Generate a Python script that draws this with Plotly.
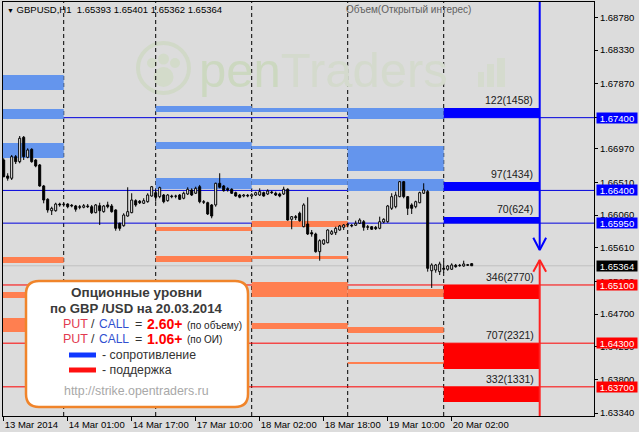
import plotly.graph_objects as go

# ---------------- data ----------------
symbol = "GBPUSD"
timeframe = "H1"

opens = [
    1.66818, 1.66598, 1.66567, 1.66864, 1.66795, 1.67130, 1.66855, 1.66965, 1.66818, 1.66750,
    1.66461, 1.66278, 1.66121, 1.66121, 1.66213, 1.66204, 1.66213, 1.66196, 1.66186, 1.66176,
    1.66168, 1.66186, 1.66176, 1.66094, 1.66190, 1.66108, 1.66200, 1.66186, 1.66131, 1.65948,
    1.65915, 1.66048, 1.66094, 1.66259, 1.66251, 1.66223, 1.66245, 1.66323, 1.66369, 1.66314,
    1.66337, 1.66259, 1.66323, 1.66323, 1.66337, 1.66292, 1.66351, 1.66406, 1.66361, 1.66451,
    1.66245, 1.66231, 1.66200, 1.66200, 1.66498, 1.66461, 1.66424, 1.66416, 1.66369, 1.66337,
    1.66323, 1.66333, 1.66323, 1.66337, 1.66337, 1.66369, 1.66351, 1.66378, 1.66361, 1.66351,
    1.66351, 1.66416, 1.66003, 1.66039, 1.66086, 1.65901, 1.65938, 1.65819, 1.65801, 1.65558,
    1.65664, 1.65681, 1.65801, 1.65819, 1.65856, 1.65893, 1.65925, 1.65921, 1.65921, 1.65948,
    1.65970, 1.65901, 1.65901, 1.65893, 1.65879, 1.65966, 1.65970, 1.66154, 1.66176, 1.66314,
    1.66520, 1.66314, 1.66200, 1.66176, 1.66231, 1.66361, 1.66383, 1.65296, 1.65306, 1.65283,
    1.65329, 1.65316, 1.65316, 1.65371, 1.65371, 1.65361, 1.65379, 1.65393]
highs = [
    1.66842, 1.66636, 1.66887, 1.66887, 1.67148, 1.67148, 1.66979, 1.66979, 1.66828, 1.66763,
    1.66475, 1.66292, 1.66176, 1.66231, 1.66231, 1.66231, 1.66223, 1.66213, 1.66200, 1.66200,
    1.66213, 1.66213, 1.66200, 1.66213, 1.66231, 1.66200, 1.66245, 1.66213, 1.66141, 1.65956,
    1.66086, 1.66443, 1.66361, 1.66278, 1.66268, 1.66292, 1.66361, 1.66461, 1.66406, 1.66451,
    1.66351, 1.66351, 1.66341, 1.66341, 1.66351, 1.66383, 1.66443, 1.66429, 1.66451, 1.66475,
    1.66268, 1.66245, 1.66213, 1.66506, 1.66636, 1.66475, 1.66443, 1.66429, 1.66383, 1.66351,
    1.66351, 1.66351, 1.66361, 1.66383, 1.66429, 1.66383, 1.66416, 1.66396, 1.66383, 1.66369,
    1.66451, 1.66429, 1.66048, 1.66062, 1.66108, 1.66223, 1.66306, 1.65856, 1.65819, 1.65728,
    1.65728, 1.65866, 1.65856, 1.65901, 1.65925, 1.65938, 1.65956, 1.65938, 1.65984, 1.66017,
    1.65993, 1.65925, 1.65911, 1.65911, 1.66039, 1.66017, 1.66200, 1.66361, 1.66383, 1.66530,
    1.66530, 1.66323, 1.66223, 1.66259, 1.66383, 1.66498, 1.66406, 1.65398, 1.65389, 1.65420,
    1.65420, 1.65375, 1.65398, 1.65389, 1.65389, 1.65434, 1.65389, 1.65401]
lows = [
    1.66581, 1.66534, 1.66543, 1.66763, 1.66773, 1.66818, 1.66842, 1.66781, 1.66718, 1.66451,
    1.66223, 1.66094, 1.66062, 1.66108, 1.66176, 1.66176, 1.66154, 1.66168, 1.66108, 1.66141,
    1.66154, 1.66158, 1.66076, 1.66086, 1.65925, 1.66094, 1.66154, 1.66094, 1.65846, 1.65846,
    1.65901, 1.66039, 1.66086, 1.66176, 1.66213, 1.66213, 1.66231, 1.66314, 1.66245, 1.66292,
    1.66223, 1.66245, 1.66292, 1.66292, 1.66268, 1.66278, 1.66337, 1.66323, 1.66351, 1.66223,
    1.66213, 1.66062, 1.66017, 1.66176, 1.66429, 1.66383, 1.66383, 1.66351, 1.66314, 1.66292,
    1.66306, 1.66306, 1.66314, 1.66323, 1.66323, 1.66314, 1.66337, 1.66351, 1.66323, 1.66306,
    1.66337, 1.65984, 1.65866, 1.65993, 1.65970, 1.65893, 1.65787, 1.65764, 1.65544, 1.65434,
    1.65650, 1.65673, 1.65787, 1.65787, 1.65846, 1.65856, 1.65893, 1.65893, 1.65911, 1.65938,
    1.65846, 1.65856, 1.65856, 1.65856, 1.65866, 1.65948, 1.65956, 1.66131, 1.66154, 1.66306,
    1.66292, 1.66062, 1.66076, 1.66154, 1.66223, 1.66351, 1.65283, 1.65059, 1.65269, 1.65237,
    1.65269, 1.65296, 1.65306, 1.65338, 1.65351, 1.65351, 1.65361, 1.65362]
closes = [
    1.66589, 1.66567, 1.66864, 1.66795, 1.67117, 1.66864, 1.66956, 1.66795, 1.66736, 1.66461,
    1.66268, 1.66131, 1.66154, 1.66213, 1.66200, 1.66213, 1.66176, 1.66186, 1.66141, 1.66168,
    1.66190, 1.66176, 1.66094, 1.66200, 1.66121, 1.66186, 1.66176, 1.66108, 1.65879, 1.65879,
    1.66062, 1.66108, 1.66268, 1.66200, 1.66231, 1.66259, 1.66337, 1.66451, 1.66306, 1.66438,
    1.66245, 1.66337, 1.66314, 1.66320, 1.66278, 1.66361, 1.66416, 1.66337, 1.66429, 1.66245,
    1.66237, 1.66076, 1.66048, 1.66498, 1.66443, 1.66396, 1.66406, 1.66361, 1.66323, 1.66306,
    1.66337, 1.66323, 1.66341, 1.66369, 1.66383, 1.66323, 1.66392, 1.66369, 1.66337, 1.66323,
    1.66416, 1.65993, 1.66039, 1.66025, 1.65984, 1.66200, 1.65801, 1.65801, 1.65558, 1.65709,
    1.65719, 1.65856, 1.65833, 1.65879, 1.65911, 1.65925, 1.65934, 1.65911, 1.65948, 1.65993,
    1.65893, 1.65893, 1.65866, 1.65874, 1.65970, 1.66003, 1.66186, 1.66314, 1.66337, 1.66520,
    1.66314, 1.66154, 1.66154, 1.66245, 1.66369, 1.66406, 1.65329, 1.65375, 1.65375, 1.65389,
    1.65316, 1.65361, 1.65375, 1.65351, 1.65365, 1.65389, 1.65371, 1.65364]

# time axis (bar index of hourly candles)
time_tick_idx = [0, 16, 32, 48, 64, 80, 96, 112]
time_tick_text = ["13 Mar 2014", "14 Mar 01:00", "14 Mar 17:00", "17 Mar 10:00",
                  "18 Mar 02:00", "18 Mar 18:00", "19 Mar 10:00", "20 Mar 02:00"]
day_start_idx = [15, 38, 62, 86, 110]
seg_start = [-1, 15, 38, 62, 86, 110]
seg_end = [15, 38, 62, 86, 110, 134]

# price axis ticks
price_ticks = [1.68780, 1.68330, 1.67870, 1.67400, 1.66970, 1.66510, 1.66060,
               1.65610, 1.65150, 1.64700, 1.64250, 1.63800, 1.63340]
y_lo, y_hi = 1.63299, 1.68990

# past days option levels (segment index, low, high)
past_res_seg = [0, 0, 0, 2, 2, 2, 3, 3, 3, 4, 4, 4]
past_res_low = [1.67781, 1.67382, 1.66846, 1.67478, 1.66969, 1.66420,
                1.67478, 1.66969, 1.66474, 1.67382, 1.66667, 1.66392]
past_res_high = [1.67987, 1.67519, 1.67052, 1.67561, 1.67066, 1.66571,
                 1.67533, 1.67011, 1.66557, 1.67533, 1.67011, 1.66557]
past_sup_seg = [0, 0, 0, 2, 2, 3, 3, 3, 3, 4, 4, 4]
past_sup_low = [1.65402, 1.64921, 1.64454, 1.65842, 1.65416, 1.65897,
                1.65457, 1.64935, 1.64495, 1.64935, 1.64440, 1.64014]
past_sup_high = [1.65485, 1.65003, 1.64646, 1.65897, 1.65498, 1.65980,
                 1.65498, 1.65141, 1.64577, 1.65045, 1.64522, 1.64041]

# current day (20.03.2014) levels
res_level = [1.67400, 1.66400, 1.65950]
res_top = [1.67533, 1.66516, 1.66035]
res_vol = [122, 97, 70]
res_oi = [1458, 1434, 624]
sup_level = [1.65100, 1.64300, 1.63700]
sup_bottom = [1.64907, 1.63945, 1.63491]
sup_vol = [346, 707, 332]
sup_oi = [2770, 2321, 1331]

arrow_idx = 134
arrow_down_tip = 1.65581
arrow_down_wing = 1.65750
arrow_up_tip = 1.65444
arrow_up_wing = 1.65283

report_date = "20.03.2014"
pc_volume = "2.60+"
pc_oi = "1.06+"

# ---------------- styling helpers ----------------
FONT = "Liberation Sans, Arial, sans-serif"
BG = "#dcdcdc"
W, H = 639, 432
ML, MR, MT, MB = 3, 45, 2, 16
PW, PH = W - ML - MR, H - MT - MB


def PX(x):
    return (x - ML) / PW


def PY(y):
    return (H - MB - y) / PH


fig = go.Figure()
shapes = []
annos = []

# watermark (faint logo)
shapes.append(dict(type="circle", xref="paper", yref="paper", x0=PX(138), x1=PX(189),
                   y0=PY(93), y1=PY(43), line=dict(color="#d1d9c8", width=4), layer="below"))
for cx, cy, r in [(163.5, 77, 10), (152, 63, 5), (163.5, 59, 5.5), (175, 63, 5)]:
    shapes.append(dict(type="circle", xref="paper", yref="paper", x0=PX(cx - r), x1=PX(cx + r),
                       y0=PY(cy + r), y1=PY(cy - r), fillcolor="#d3dbca", line=dict(width=0),
                       layer="below"))
for bx0, bx1, by0 in [(478, 484, 72), (487, 494, 64), (497, 505, 58)]:
    shapes.append(dict(type="rect", xref="paper", yref="paper", x0=PX(bx0), x1=PX(bx1),
                       y0=PY(87), y1=PY(by0), fillcolor="#d5dbce", line=dict(width=0),
                       layer="below"))
annos.append(dict(xref="paper", yref="paper", x=PX(323), y=PY(70), showarrow=False,
                  text="<span style='color:#ccd8c0'>pen</span><span style='color:#d4dacd'>Traders</span>",
                  font=dict(size=49, family=FONT), xanchor="center", yanchor="middle"))

# past option levels
for s, lo, hi in zip(past_res_seg, past_res_low, past_res_high):
    shapes.append(dict(type="rect", xref="x", yref="y", x0=seg_start[s], x1=seg_end[s],
                       y0=lo, y1=hi, fillcolor="#6495ed", line=dict(width=0), layer="below"))
for s, lo, hi in zip(past_sup_seg, past_sup_low, past_sup_high):
    shapes.append(dict(type="rect", xref="x", yref="y", x0=seg_start[s], x1=seg_end[s],
                       y0=lo, y1=hi, fillcolor="#ff7f50", line=dict(width=0), layer="below"))
# current levels
cur = len(seg_start) - 1
for lv, tp in zip(res_level, res_top):
    shapes.append(dict(type="rect", xref="x", yref="y", x0=seg_start[cur], x1=seg_end[cur],
                       y0=lv, y1=tp, fillcolor="#0000ff", line=dict(width=0), layer="below"))
for lv, bt in zip(sup_level, sup_bottom):
    shapes.append(dict(type="rect", xref="x", yref="y", x0=seg_start[cur], x1=seg_end[cur],
                       y0=bt, y1=lv, fillcolor="#ff0000", line=dict(width=0), layer="below"))

# day separators
for d in day_start_idx:
    shapes.append(dict(type="line", xref="x", yref="paper", x0=d, x1=d, y0=0, y1=1,
                       line=dict(color="black", width=1, dash="4px,3px"), layer="below"))
# horizontal level lines
for lv in res_level:
    shapes.append(dict(type="line", xref="paper", yref="y", x0=0, x1=1, y0=lv, y1=lv,
                       line=dict(color="#0000dd", width=1), layer="below"))
for lv in sup_level:
    shapes.append(dict(type="line", xref="paper", yref="y", x0=0, x1=1, y0=lv, y1=lv,
                       line=dict(color="#ff0000", width=1), layer="below"))
bid = closes[-1]
shapes.append(dict(type="line", xref="paper", yref="y", x0=0, x1=1, y0=bid, y1=bid,
                   line=dict(color="#c0c0c0", width=1), layer="below"))

# candles
idx = list(range(len(opens)))
MINH = 0.00002
for up in (True, False):
    xs, bases, hs = [], [], []
    for i, o, c in zip(idx, opens, closes):
        if (c >= o) == up:
            xs.append(i)
            bases.append(min(o, c))
            hs.append(max(abs(c - o), MINH))
    fig.add_trace(go.Bar(x=xs, y=hs, base=bases, width=0.5,
                         marker=dict(color="white" if up else "black",
                                     line=dict(color="black", width=1)),
                         hoverinfo="skip", showlegend=False))
wx, wy = [], []
for i, o, h, l, c in zip(idx, opens, highs, lows, closes):
    top, bot = max(o, c), min(o, c)
    if h > top:
        wx += [i, i, None]
        wy += [top, h, None]
    if l < bot:
        wx += [i, i, None]
        wy += [bot, l, None]
fig.add_trace(go.Scatter(x=wx, y=wy, mode="lines", line=dict(color="black", width=1),
                         hoverinfo="skip", showlegend=False))

# arrows
fig.add_trace(go.Scatter(x=[arrow_idx, arrow_idx, None, arrow_idx - 1.6, arrow_idx, arrow_idx + 1.6],
                         y=[y_hi, arrow_down_tip, None, arrow_down_wing, arrow_down_tip, arrow_down_wing],
                         mode="lines", line=dict(color="#0000ff", width=2),
                         hoverinfo="skip", showlegend=False))
fig.add_trace(go.Scatter(x=[arrow_idx, arrow_idx, None, arrow_idx - 1.6, arrow_idx, arrow_idx + 1.6],
                         y=[y_lo, arrow_up_tip, None, arrow_up_wing, arrow_up_tip, arrow_up_wing],
                         mode="lines", line=dict(color="#ff2020", width=2),
                         hoverinfo="skip", showlegend=False))

# level labels
for tp, v, o in zip(res_top, res_vol, res_oi):
    annos.append(dict(x=seg_end[cur], y=tp, xref="x", yref="y", text=f"{v}({o})",
                      showarrow=False, xanchor="right", yanchor="bottom", xshift=-5,
                      font=dict(size=10.5, color="#202020", family=FONT)))
for lv, v, o in zip(sup_level, sup_vol, sup_oi):
    annos.append(dict(x=seg_end[cur], y=lv, xref="x", yref="y", text=f"{v}({o})",
                      showarrow=False, xanchor="right", yanchor="bottom", xshift=-4,
                      font=dict(size=10.5, color="#202020", family=FONT)))

# price highlight labels on the axis
highlight = [(lv, "#0000ff") for lv in res_level] + [(lv, "#ff0000") for lv in sup_level]
bid = closes[-1]
highlight.append((bid, "black"))
for lv, col in highlight:
    annos.append(dict(x=1, y=lv, xref="paper", yref="y", text=f"{lv:.5f}", showarrow=False,
                      xanchor="left", yanchor="middle", xshift=2, width=40, height=10,
                      bgcolor=col, borderpad=0, align="center",
                      font=dict(size=9.5, color="white", family=FONT)))
tick_text = ["" if any(abs(v - lv) < 0.00005 for lv, _ in highlight) else f"{v:.5f}"
             for v in price_ticks]

# header texts
annos.append(dict(xref="paper", yref="paper", x=PX(5), y=PY(10), showarrow=False,
                  xanchor="left", yanchor="middle",
                  text=f"<span style='font-size:7px'>▼</span> {symbol},{timeframe}  "
                       f"{opens[-1]:.5f} {highs[-1]:.5f} {lows[-1]:.5f} {closes[-1]:.5f}",
                  font=dict(size=9.5, color="black", family=FONT)))
annos.append(dict(xref="paper", yref="paper", x=PX(344), y=PY(10), showarrow=False,
                  xanchor="left", yanchor="middle", text="Объем(Открытый интерес)",
                  font=dict(size=10, color="#606060", family=FONT)))


# legend box
def rrect(x0, y0, x1, y1, r):
    p = [f"M {PX(x0 + r)},{PY(y0)}", f"L {PX(x1 - r)},{PY(y0)}",
         f"Q {PX(x1)},{PY(y0)} {PX(x1)},{PY(y0 + r)}", f"L {PX(x1)},{PY(y1 - r)}",
         f"Q {PX(x1)},{PY(y1)} {PX(x1 - r)},{PY(y1)}", f"L {PX(x0 + r)},{PY(y1)}",
         f"Q {PX(x0)},{PY(y1)} {PX(x0)},{PY(y1 - r)}", f"L {PX(x0)},{PY(y0 + r)}",
         f"Q {PX(x0)},{PY(y0)} {PX(x0 + r)},{PY(y0)}", "Z"]
    return " ".join(p)


shapes.append(dict(type="path", xref="paper", yref="paper", path=rrect(26, 281, 248, 407, 13),
                   fillcolor="white", line=dict(color="#f0842a", width=2.5), layer="above"))
shapes.append(dict(type="rect", xref="paper", yref="paper", x0=PX(69), x1=PX(96),
                   y0=PY(357.5), y1=PY(352.5), fillcolor="#1038ff", line=dict(width=0),
                   layer="above"))
shapes.append(dict(type="rect", xref="paper", yref="paper", x0=PX(69), x1=PX(96),
                   y0=PY(372.5), y1=PY(367.5), fillcolor="#ff1010", line=dict(width=0),
                   layer="above"))


def txt(x, y, s, size, color, anchor="left"):
    return dict(xref="paper", yref="paper", x=PX(x), y=PY(y), text=s, showarrow=False,
                xanchor=anchor, yanchor="middle", borderpad=0,
                font=dict(size=size, color=color, family=FONT))


annos.append(txt(136, 292, "<b>Опционные уровни</b>", 13.5, "#3a3a3a", "center"))
annos.append(txt(136, 308.5, f"<b>по GBP /USD на {report_date}</b>", 13.2, "#3a3a3a", "center"))
for yy, val, note in [(324, pc_volume, "(по объему)"), (338.5, pc_oi, "(по ОИ)")]:
    annos.append(txt(62, yy, "PUT", 12.5, "#e23a50"))
    annos.append(txt(90, yy, "/", 12.5, "#333333"))
    annos.append(txt(98, yy, "CALL", 12, "#3050d0"))
    annos.append(txt(134, yy, "=", 12.5, "#333333"))
    annos.append(txt(146, yy, f"<b>{val}</b>", 14, "#ff0000"))
    annos.append(txt(186, yy + 1, note, 10, "#222222"))
annos.append(txt(101, 355, "- сопротивление", 12.3, "#333333"))
annos.append(txt(101, 369.5, "- поддержка", 12.3, "#333333"))
annos.append(txt(136, 391, "http://strike.opentraders.ru", 12.4, "#a8a8a8", "center"))

fig.update_layout(
    width=W, height=H, margin=dict(l=ML, r=MR, t=MT, b=MB, autoexpand=False),
    paper_bgcolor=BG, plot_bgcolor=BG, showlegend=False, barmode="overlay",
    shapes=shapes, annotations=annos, hovermode=False,
    xaxis=dict(range=[-0.175, 147.575], showgrid=False, zeroline=False, automargin=False,
               showline=True, mirror=True, linecolor="black", linewidth=1,
               tickvals=time_tick_idx, ticktext=time_tick_text, ticks="outside", ticklen=4,
               tickcolor="black", ticklabelposition="outside right", tickangle=0,
               tickfont=dict(size=9.5, color="black", family=FONT)),
    yaxis=dict(range=[y_lo, y_hi], side="right", showgrid=False, zeroline=False,
               automargin=False,
               showline=True, mirror=True, linecolor="black", linewidth=1,
               tickvals=price_ticks, ticktext=tick_text,
               ticks="outside", ticklen=3, tickcolor="black",
               tickfont=dict(size=9.5, color="black", family=FONT)),
)

fig.write_html("out.html", config={"displayModeBar": False},
               post_script="document.body.style.margin='0px';document.body.style.overflow='hidden';")
